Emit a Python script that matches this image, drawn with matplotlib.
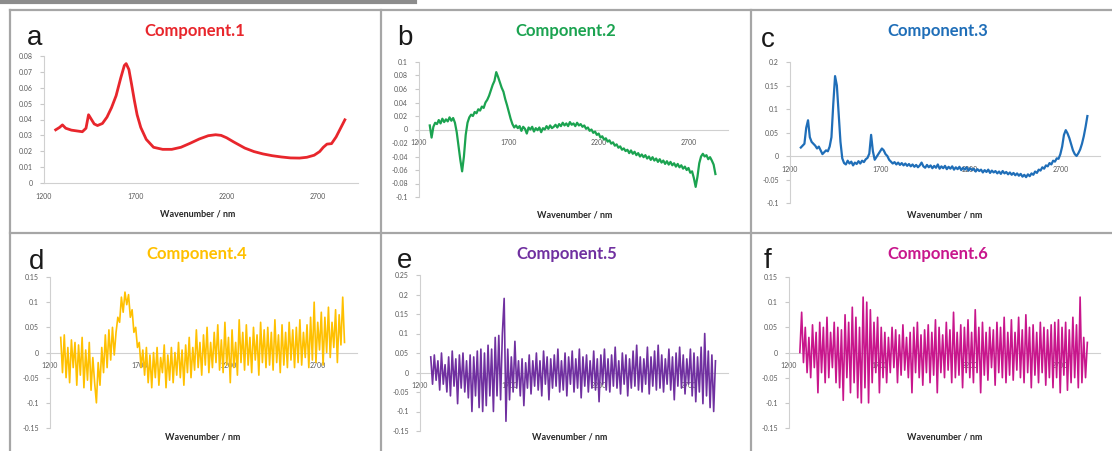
import numpy as np
import matplotlib.pyplot as plt
from matplotlib.lines import Line2D
from matplotlib.ticker import FuncFormatter

# Component.1 (smooth spectrum)
wl_a = [1264, 1285, 1301, 1319, 1350, 1380, 1410, 1430, 1444, 1460, 1475, 1493, 1520,
        1545, 1570, 1595, 1620, 1640, 1650, 1665, 1680, 1695, 1710, 1730, 1760, 1800,
        1850, 1900, 1950, 2000, 2050, 2100, 2140, 2170, 2200, 2240, 2300, 2350, 2400,
        2450, 2500, 2550, 2600, 2640, 2680, 2710, 2730, 2750, 2775, 2800, 2820, 2848]
comp1 = [0.0335, 0.0350, 0.0366, 0.0345, 0.0333, 0.0328, 0.0323, 0.0345, 0.0430, 0.0400,
         0.0372, 0.0362, 0.0375, 0.0415, 0.0475, 0.0550, 0.0660, 0.0740, 0.0752, 0.0715,
         0.0620, 0.0520, 0.0430, 0.0350, 0.0275, 0.0225, 0.0212, 0.0212, 0.0225, 0.0250,
         0.0277, 0.0298, 0.0304, 0.0300, 0.0285, 0.0258, 0.0220, 0.0198, 0.0183, 0.0172,
         0.0164, 0.0158, 0.0157, 0.0162, 0.0175, 0.0198, 0.0225, 0.0245, 0.0248, 0.0290,
         0.0335, 0.0398]

# wavenumber grid for components 2-6 (10 nm step)
wl = np.arange(1260, 2860, 10)

comp2 = [0.006, -0.012, 0.004, 0.010, 0.008, 0.014, 0.009, 0.016, 0.011, 0.015,
         0.012, 0.018, 0.013, 0.017, 0.010, -0.004, -0.025, -0.045, -0.062, -0.040,
         -0.008, 0.010, 0.018, 0.022, 0.020, 0.026, 0.024, 0.030, 0.028, 0.034,
         0.032, 0.040, 0.044, 0.050, 0.058, 0.066, 0.072, 0.085, 0.078, 0.070,
         0.062, 0.056, 0.045, 0.036, 0.026, 0.016, 0.008, 0.003, 0.006, 0.002,
         0.005, -0.002, 0.004, 0.001, -0.006, 0.003, 0.000, 0.004, -0.003, 0.002,
         -0.001, 0.003, -0.004, 0.002, 0.000, 0.005, 0.001, 0.006, 0.002, 0.004,
         0.007, 0.003, 0.008, 0.005, 0.010, 0.006, 0.009, 0.005, 0.011, 0.007,
         0.009, 0.005, 0.010, 0.006, 0.008, 0.004, 0.006, 0.001, 0.003, -0.002,
         0.000, -0.005, -0.003, -0.008, -0.006, -0.012, -0.010, -0.015, -0.013, -0.018,
         -0.016, -0.021, -0.019, -0.024, -0.022, -0.027, -0.025, -0.030, -0.028, -0.032,
         -0.030, -0.035, -0.031, -0.036, -0.033, -0.038, -0.035, -0.040, -0.037, -0.041,
         -0.038, -0.043, -0.040, -0.045, -0.041, -0.046, -0.043, -0.048, -0.044, -0.049,
         -0.046, -0.051, -0.047, -0.052, -0.048, -0.053, -0.050, -0.055, -0.051, -0.056,
         -0.053, -0.058, -0.055, -0.060, -0.057, -0.064, -0.062, -0.072, -0.085, -0.070,
         -0.050, -0.040, -0.036, -0.040, -0.038, -0.044, -0.041, -0.046, -0.052, -0.066]

comp3 = [0.018, 0.022, 0.026, 0.060, 0.076, 0.040, 0.030, 0.026, 0.022, 0.016,
         0.020, 0.012, 0.004, 0.008, 0.012, 0.010, 0.020, 0.040, 0.110, 0.170,
         0.150, 0.090, 0.030, -0.005, -0.015, -0.018, -0.010, -0.016, -0.012, -0.020,
         -0.014, -0.017, -0.011, -0.016, -0.010, -0.013, -0.007, -0.004, 0.005, 0.045,
         0.010, -0.008, -0.002, 0.004, 0.010, 0.016, 0.012, 0.004, 0.000, -0.008,
         -0.012, -0.016, -0.013, -0.018, -0.014, -0.019, -0.015, -0.020, -0.016, -0.021,
         -0.017, -0.022, -0.018, -0.023, -0.019, -0.024, -0.020, -0.014, -0.022, -0.025,
         -0.019, -0.024, -0.020, -0.026, -0.021, -0.025, -0.018, -0.027, -0.022, -0.026,
         -0.021, -0.028, -0.023, -0.027, -0.022, -0.029, -0.024, -0.028, -0.023, -0.030,
         -0.025, -0.029, -0.024, -0.031, -0.026, -0.030, -0.027, -0.033, -0.028, -0.032,
         -0.029, -0.035, -0.030, -0.034, -0.029, -0.036, -0.031, -0.035, -0.032, -0.037,
         -0.033, -0.038, -0.032, -0.037, -0.034, -0.039, -0.035, -0.040, -0.036, -0.041,
         -0.037, -0.042, -0.038, -0.044, -0.040, -0.045, -0.039, -0.043, -0.037, -0.040,
         -0.033, -0.036, -0.029, -0.031, -0.024, -0.027, -0.020, -0.022, -0.015, -0.018,
         -0.010, -0.012, -0.005, -0.006, 0.004, 0.020, 0.045, 0.055, 0.048, 0.038,
         0.025, 0.012, 0.004, 0.000, 0.006, 0.014, 0.026, 0.042, 0.062, 0.085]

comp4 = [0.030, -0.040, 0.035, -0.050, 0.010, -0.060, 0.025, -0.030, 0.020, -0.065,
         0.015, -0.045, 0.030, -0.070, 0.005, -0.055, 0.020, -0.075, -0.010, -0.060,
         -0.100, -0.020, -0.065, 0.010, -0.040, 0.035, -0.030, 0.045, -0.015, 0.050,
         -0.005, 0.040, 0.070, 0.060, 0.110, 0.080, 0.120, 0.095, 0.115, 0.070,
         0.085, 0.040, 0.050, 0.010, 0.020, -0.030, 0.005, -0.045, 0.010, -0.060,
         -0.005, -0.070, 0.000, -0.050, 0.010, -0.065, -0.010, -0.040, 0.015, -0.070,
         -0.005, -0.055, 0.010, -0.060, 0.000, -0.045, 0.020, -0.050, 0.005, -0.065,
         0.015, -0.040, 0.030, -0.050, 0.010, -0.035, 0.045, -0.030, 0.020, -0.045,
         0.035, -0.025, 0.050, -0.040, 0.020, -0.030, 0.040, -0.020, 0.055, -0.035,
         0.025, -0.040, 0.060, -0.025, 0.030, -0.060, 0.045, -0.030, 0.020, -0.045,
         0.065, -0.020, 0.040, -0.035, 0.055, -0.025, 0.030, -0.040, 0.050, -0.015,
         0.035, -0.045, 0.060, -0.020, 0.045, -0.030, 0.050, -0.025, 0.040, -0.035,
         0.065, -0.020, 0.035, -0.040, 0.055, -0.025, 0.040, -0.030, 0.060, -0.015,
         0.045, -0.030, 0.050, -0.020, 0.065, -0.025, 0.040, -0.010, 0.055, -0.030,
         0.070, -0.015, 0.100, -0.020, 0.060, 0.005, 0.080, -0.025, 0.070, 0.000,
         0.090, -0.010, 0.060, 0.010, 0.085, -0.020, 0.075, 0.015, 0.110, 0.020]

comp5 = [0.040, -0.030, 0.045, -0.020, 0.030, -0.045, 0.050, -0.030, 0.020, -0.050,
         0.040, -0.060, 0.055, -0.035, 0.035, -0.080, 0.045, -0.040, 0.050, -0.050,
         0.030, -0.065, 0.045, -0.100, 0.040, -0.060, 0.055, -0.090, 0.060, -0.100,
         0.050, -0.085, 0.070, -0.060, 0.060, -0.100, 0.090, -0.060, 0.095, -0.070,
         0.100, 0.190, -0.125, 0.060, -0.070, 0.040, -0.050, 0.080, -0.040, 0.030,
         -0.060, 0.035, -0.085, 0.025, -0.040, 0.045, -0.055, 0.030, -0.035, 0.050,
         -0.045, 0.030, -0.060, 0.055, -0.030, 0.040, -0.070, 0.035, -0.040, 0.045,
         -0.035, 0.060, -0.050, 0.030, -0.045, 0.050, -0.060, 0.040, -0.030, 0.055,
         -0.050, 0.035, -0.040, 0.060, -0.065, 0.040, -0.035, 0.045, -0.050, 0.030,
         -0.040, 0.055, -0.045, 0.035, -0.075, 0.045, -0.030, 0.060, -0.045, 0.035,
         -0.050, 0.045, -0.035, 0.065, -0.040, 0.030, -0.055, 0.050, -0.030, 0.045,
         -0.060, 0.035, -0.040, 0.055, -0.035, 0.070, -0.045, 0.040, -0.050, 0.035,
         -0.030, 0.065, -0.055, 0.040, -0.035, 0.055, -0.045, 0.070, -0.040, 0.045,
         -0.050, 0.035, -0.030, 0.060, -0.045, 0.040, -0.070, 0.050, -0.035, 0.065,
         -0.040, 0.045, -0.055, 0.035, -0.030, 0.060, -0.060, 0.050, -0.075, 0.040,
         -0.050, 0.065, -0.080, 0.100, -0.060, 0.055, -0.090, 0.045, -0.100, 0.030]

comp6 = [0.000, 0.080, -0.020, 0.050, -0.040, 0.030, -0.050, 0.055, -0.030, 0.040,
         -0.080, 0.060, -0.040, 0.050, -0.060, 0.070, -0.050, 0.040, -0.030, 0.060,
         -0.060, 0.050, -0.070, 0.045, -0.095, 0.075, -0.050, 0.060, -0.080, 0.090,
         -0.060, 0.070, -0.090, 0.050, -0.100, 0.110, -0.070, 0.100, -0.100, 0.085,
         -0.060, 0.060, -0.040, 0.070, -0.080, 0.050, -0.050, 0.040, -0.060, 0.030,
         -0.040, 0.050, -0.030, 0.045, -0.060, 0.035, -0.045, 0.055, -0.035, 0.030,
         -0.050, 0.040, -0.080, 0.050, -0.040, 0.060, -0.050, 0.035, -0.065, 0.045,
         -0.040, 0.055, -0.060, 0.040, -0.045, 0.065, -0.080, 0.050, -0.040, 0.035,
         -0.050, 0.060, -0.035, 0.045, -0.060, 0.080, -0.050, 0.040, -0.045, 0.055,
         -0.070, 0.050, -0.040, 0.065, -0.050, 0.040, -0.060, 0.085, -0.040, 0.050,
         -0.080, 0.060, -0.045, 0.040, -0.055, 0.050, -0.030, 0.045, -0.065, 0.060,
         -0.040, 0.050, -0.050, 0.070, -0.060, 0.040, -0.045, 0.065, -0.055, 0.040,
         -0.035, 0.070, -0.050, 0.045, -0.060, 0.075, -0.040, 0.050, -0.070, 0.055,
         -0.045, 0.040, -0.060, 0.060, -0.040, 0.050, -0.065, 0.045, -0.050, 0.055,
         -0.070, 0.060, -0.050, 0.065, -0.080, 0.050, -0.045, 0.060, -0.075, 0.045,
         -0.060, 0.070, -0.050, 0.055, -0.070, 0.110, -0.060, 0.030, -0.050, 0.020]

titles = ['Component.1', 'Component.2', 'Component.3', 'Component.4', 'Component.5', 'Component.6']
letters = ['a', 'b', 'c', 'd', 'e', 'f']
colors = ['#E8262C', '#1BA350', '#1F6EB8', '#FFC000', '#7030A0', '#C8168C']
xticks = [1200, 1700, 2200, 2700]

W, H = 1112, 451
fig = plt.figure(figsize=(W / 100, H / 100), dpi=100)


def rect(l, t, r, b):
    return [l / W, 1 - b / H, (r - l) / W, (b - t) / H]


def fx(x):
    return x / W


def fy(y):
    return 1 - y / H


# panel frames
grey = '#a6a6a6'
for xs, ys, lw, c in [([0, 415], [2, 2], 3, '#8c8c8c'),
                      ([10, W], [10, 10], 1.6, grey),
                      ([10, 10], [10, H], 1.6, grey),
                      ([381, 381], [10, H], 1.6, grey),
                      ([751, 751], [10, H], 1.6, grey),
                      ([10, W], [233, 233], 1.6, grey)]:
    fig.add_artist(Line2D([fx(v) for v in xs], [fy(v) for v in ys], lw=lw, color=c))

# (axes rect, ylim, ytick step, title x, title y, letter x, letter y, xlabel x, xlabel y)
panels = [
    ((44, 56, 358, 183), (0, 0.08), 0.01, 195, 31, 35, 38, 198, 214),
    ((419, 62, 728, 197), (-0.1, 0.1), 0.02, 566, 31, 405, 38, 575, 215),
    ((790, 62, 1100, 203), (-0.1, 0.2), 0.05, 938, 31, 768, 40, 945, 215),
    ((50, 277, 357, 428), (-0.15, 0.15), 0.05, 197, 254, 37, 262, 203, 437),
    ((420, 275, 728, 431), (-0.15, 0.25), 0.05, 567, 254, 405, 261, 570, 437),
    ((789, 277, 1100, 428), (-0.15, 0.15), 0.05, 938, 254, 768, 261, 945, 437),
]
widths = [2.0, 1.6, 1.6, 1.2, 1.2, 1.2]

series = [(wl_a, comp1), (wl, comp2), (wl, comp3), (wl, comp4), (wl, comp5), (wl, comp6)]

for i, (p, (x, y)) in enumerate(zip(panels, series)):
    box, ylim, step, tx, ty, lx, ly, xlx, xly = p
    ax = fig.add_axes(rect(*box))
    ax.patch.set_alpha(0)
    ax.plot(x, y, color=colors[i], lw=widths[i], zorder=3)
    ax.set_xlim(1200, 2920)
    ax.set_ylim(*ylim)
    ax.set_xticks(xticks)
    ax.set_yticks(np.arange(ylim[0], ylim[1] + step / 2, step))
    ax.yaxis.set_major_formatter(FuncFormatter(lambda v, _: '%g' % round(v, 3)))
    for s in ['top', 'right']:
        ax.spines[s].set_visible(False)
    ax.spines['left'].set_color('#d0d0d0')
    ax.spines['bottom'].set_color('#d0d0d0')
    ax.spines['bottom'].set_position(('data', 0))
    ax.set_axisbelow(True)
    ax.tick_params(axis='y', length=3, color='#c8c8c8', labelsize=5, labelcolor='#595959', pad=5)
    ax.tick_params(axis='x', length=0, labelsize=5, labelcolor='#595959', pad=7)
    for lab in ax.get_xticklabels() + ax.get_yticklabels():
        lab.set_family('Lato')
    fig.text(fx(tx), fy(ty), titles[i], color=colors[i], fontsize=12, fontweight='bold',
             family='Lato', ha='center', va='center')
    fig.text(fx(lx), fy(ly), letters[i], color='#1a1a1a', fontsize=20,
             family='Liberation Sans', ha='center', va='center')
    fig.text(fx(xlx), fy(xly), 'Wavenumber / nm', color='#262626', fontsize=6.5,
             fontweight='bold', family='Lato', ha='center', va='center')

fig.savefig('out.png', dpi=100)
